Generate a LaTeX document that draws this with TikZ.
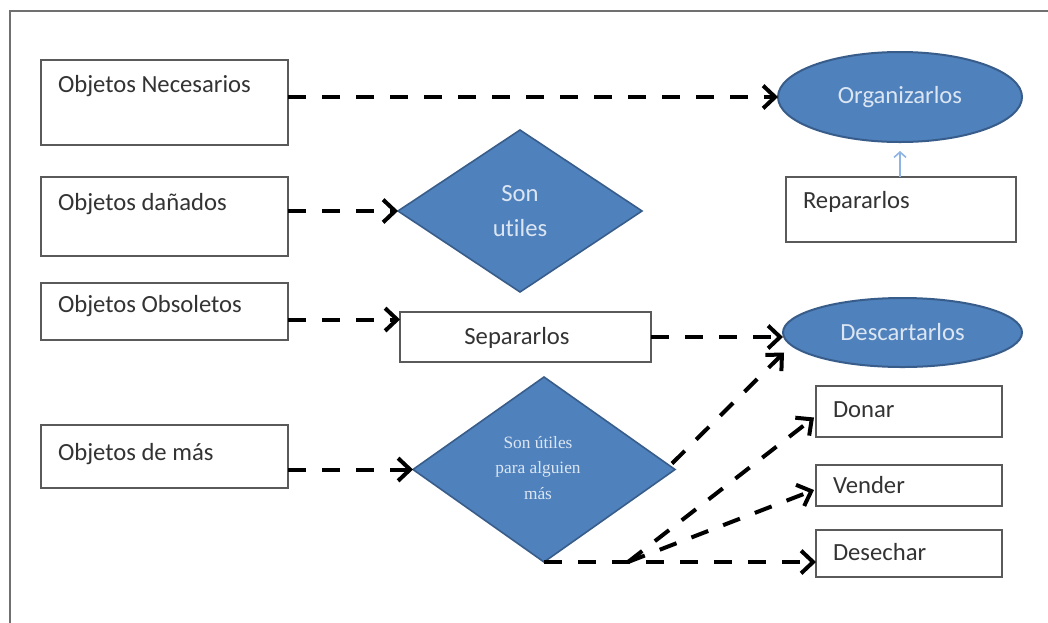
\documentclass[tikz,border=0pt]{standalone}
\usepackage{fontspec}
\setmainfont{Carlito}[Ligatures=NoCommon]
\newfontfamily\smallserif{Liberation Serif}
\usetikzlibrary{arrows.meta,shapes.geometric}
\definecolor{boxline}{HTML}{5A5A5A}
\definecolor{shapefill}{HTML}{4F81BD}
\definecolor{shapeline}{HTML}{385D8A}
\definecolor{shapetext}{HTML}{DCE6F2}
\definecolor{boxtext}{HTML}{333333}
\definecolor{framegray}{HTML}{707070}
\definecolor{linkblue}{HTML}{8EB4E3}

\begin{document}
\begin{tikzpicture}[x=0.75pt,y=-0.75pt,
  every node/.style={inner sep=0pt, outer sep=0pt},
  stepbox/.style={rectangle, draw=boxline, line width=1.5pt, fill=white},
  boxlabel/.style={anchor=base west, text=boxtext, font=\fontsize{18.5}{22}\selectfont},
  decision/.style={diamond, draw=shapeline, line width=1.2pt, fill=shapefill, text=shapetext, align=center},
  action/.style={ellipse, draw=shapeline, line width=1.5pt, fill=shapefill, text=shapetext, font=\fontsize{18.5}{22}\selectfont},
  flow/.style={draw=black, line width=3pt, dash pattern=on 13.5pt off 12pt,
    -{Straight Barb[length=9pt,width=17pt,line width=3pt]}},
  repairlink/.style={draw=linkblue, line width=1.2pt, -{Straight Barb[length=4pt,width=9pt,line width=1.2pt]}},
  outerline/.style={draw=framegray, line width=1.6pt}
]
% canvas
\clip (0,0) rectangle (1048,622);
\fill[white] (0,0) rectangle (1048,622);
\draw[outerline] (1070,11) -- (10,11) -- (10,650);

% left column: kinds of objects
\node[stepbox, minimum width=185.25pt, minimum height=63.75pt] (b1) at (164.5,102.5) {};
\node[boxlabel] (t1) at (58,92) {Objetos Necesarios};
\node[stepbox, minimum width=185.25pt, minimum height=59.25pt] (b2) at (164.5,216.5) {};
\node[boxlabel] (t2) at (58,210) {Objetos dañados};
\node[stepbox, minimum width=185.25pt, minimum height=42.75pt] (b3) at (164.5,311.5) {};
\node[boxlabel] (t3) at (58,312) {Objetos Obsoletos};
\node[stepbox, minimum width=185.25pt, minimum height=47.25pt] (b4) at (164.5,456.5) {};
\node[boxlabel] (t4) at (58,460) {Objetos de más};

% middle column
\node[decision, minimum width=183pt, minimum height=121.5pt,
      font=\fontsize{18.5}{26}\selectfont] (d1) at (520,211) {Son\\utiles};
\node[stepbox, minimum width=188.25pt, minimum height=37.5pt] (sep) at (525.5,337) {};
\node[text=boxtext, font=\fontsize{18.5}{22}\selectfont] (tsep) at (517,338) {Separarlos};
\node[decision, minimum width=196.5pt, minimum height=138.75pt] (d2) at (544,469.5) {};
\node[text=shapetext, align=center, font=\smallserif\fontsize{13}{19}\selectfont] (td2) at (538,468) {Son útiles\\para alguien\\más};

% right column: actions
\node[action, minimum width=183pt, minimum height=67.5pt] (org) at (900,97) {Organizarlos};
\node[stepbox, minimum width=172.5pt, minimum height=48.75pt] (rep) at (901,209.5) {};
\node[boxlabel] (trep) at (803,208) {Repararlos};
\node[action, minimum width=179.25pt, minimum height=51.75pt] (desc) at (902.5,332.5) {Descartarlos};
\node[stepbox, minimum width=139.5pt, minimum height=38.25pt] (don) at (909,411.5) {};
\node[boxlabel] (tdon) at (833,417) {Donar};
\node[stepbox, minimum width=139.5pt, minimum height=30.75pt] (ven) at (909,485.5) {};
\node[boxlabel] (tven) at (833,493) {Vender};
\node[stepbox, minimum width=139.5pt, minimum height=35.25pt] (des) at (909,553.5) {};
\node[boxlabel] (tdes) at (833,560) {Desechar};

% connectors
\draw[flow] (b1.east |- org.west) -- (org.west);
\draw[flow] (b2.east |- d1.west) -- (d1.west);
\coordinate (a3) at ([shift={(0,8)}]b3.east);
\draw[flow] (a3) -- (a3 -| sep.west);
\draw[flow] (b4.east |- d2.west) -- (d2.west);
\draw[flow] (sep.east) -- (sep.east -| desc.west);
\coordinate (dtip) at ([shift={(1,20)}]desc.west);
\draw[flow] ([shift={(-3,-6)}]d2.east) -- (dtip);
\draw[flow] (d2.south) -- (d2.south -| des.west);
\coordinate (fork) at ([shift={(84,0)}]d2.south);
\draw[flow] (fork) -- ([shift={(-2,6)}]don.west);
\draw[flow] (fork) -- ([shift={(-2,4.5)}]ven.west);
\draw[repairlink] (org.south |- rep.north) -- ([shift={(0,9)}]org.south);
\end{tikzpicture}
\end{document}
